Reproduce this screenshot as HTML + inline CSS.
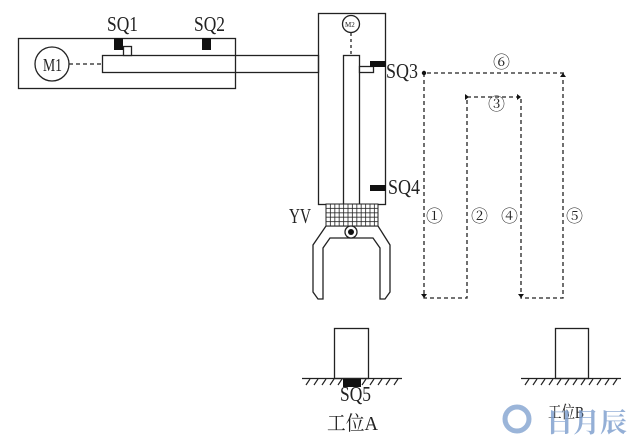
<!DOCTYPE html>
<html><head><meta charset="utf-8"><style>
html,body{margin:0;padding:0;background:#fff;}
svg{display:block}
text{font-family:"Liberation Serif","Noto Serif CJK SC",serif;fill:#222}
</style></head><body>
<svg width="640" height="443" viewBox="0 0 640 443" xmlns="http://www.w3.org/2000/svg">
<defs>
<pattern id="grid" width="4.4" height="4.4" patternUnits="userSpaceOnUse" x="326" y="204">
<rect width="4.4" height="4.4" fill="#fff" stroke="#222" stroke-width="0.8"/>
</pattern>
</defs>
<g fill="none" stroke="#222" stroke-width="1.3">
<rect x="18.5" y="38.5" width="217" height="50"/>
<circle cx="52" cy="64" r="17"/>
<line x1="69" y1="64" x2="101" y2="64" stroke-dasharray="4,3"/>
<rect x="102.5" y="55.5" width="216" height="17"/>
<rect x="123.5" y="46.5" width="8" height="9" fill="#fff"/>
<rect x="318.5" y="13.5" width="67" height="191"/>
<circle cx="351" cy="24" r="8.5"/>
<line x1="351" y1="33" x2="351" y2="55" stroke-dasharray="3,3"/>
<rect x="343.5" y="55.5" width="16" height="149"/>
<rect x="359.5" y="66.5" width="14" height="6" fill="#fff"/>
<path d="M326 226 L378 226 L390 245 L390 292 L385 299 L380 299 L380 248 L373 238 L330 238 L323 248 L323 299 L318 299 L313 292 L313 245 Z" fill="#fff"/>
<rect x="334.5" y="328.5" width="34" height="50"/>
<line x1="302" y1="378.5" x2="402" y2="378.5"/>
<rect x="555.5" y="328.5" width="33" height="50"/>
<line x1="521" y1="378.5" x2="621" y2="378.5"/>
</g>
<rect x="326" y="204" width="52" height="22" fill="url(#grid)" stroke="#222" stroke-width="1"/>
<circle cx="351" cy="232" r="6" fill="#fff" stroke="#222" stroke-width="1.3"/>
<circle cx="351" cy="232" r="3" fill="#111"/>
<rect x="114" y="38" width="9" height="12" fill="#111"/>
<rect x="202" y="38" width="9" height="12" fill="#111"/>
<rect x="370" y="61" width="16" height="6" fill="#111"/>
<rect x="370" y="185" width="16" height="6" fill="#111"/>
<rect x="343" y="379" width="18" height="8" fill="#111"/>
<g stroke="#222" stroke-width="1.2">
<path d="M306 385l4-6M314 385l4-6M322 385l4-6M330 385l4-6M338 385l4-6M362 385l4-6M370 385l4-6M378 385l4-6M386 385l4-6M394 385l4-6"/>
<path d="M525 385l4-6M533 385l4-6M541 385l4-6M549 385l4-6M557 385l4-6M565 385l4-6M573 385l4-6M581 385l4-6M589 385l4-6M597 385l4-6M605 385l4-6M613 385l4-6"/>
</g>
<g fill="none" stroke="#222" stroke-width="1.3" stroke-dasharray="4,3">
<polyline points="564,73 424,73 424,298 467,298 467,97 521,97 521,298 563,298 563,73"/>
</g>
<circle cx="424" cy="73" r="2.2" fill="#111"/>
<path d="M469 97l-4-3v6z M521 97l-4-3v6z M563 73l-3 4h6z M424 298l-3-4h6z M521 298l-3-4h6z" fill="#111"/>
<g font-size="21" lengthAdjust="spacingAndGlyphs">
<text x="107" y="31" textLength="31" lengthAdjust="spacingAndGlyphs">SQ1</text>
<text x="194" y="31" textLength="31" lengthAdjust="spacingAndGlyphs">SQ2</text>
<text x="386" y="78" textLength="32" lengthAdjust="spacingAndGlyphs">SQ3</text>
<text x="388" y="194" textLength="32" lengthAdjust="spacingAndGlyphs">SQ4</text>
<text x="289" y="223" textLength="22" lengthAdjust="spacingAndGlyphs">YV</text>
<text x="340" y="401" textLength="31" lengthAdjust="spacingAndGlyphs">SQ5</text>
</g>
<text x="43" y="71" font-size="18" textLength="19" lengthAdjust="spacingAndGlyphs">M1</text>
<text x="345" y="27" font-size="7">M2</text>
<text x="327" y="430" font-size="20" textLength="51" lengthAdjust="spacingAndGlyphs">工位A</text>
<text x="548" y="418" font-size="17" textLength="36" lengthAdjust="spacingAndGlyphs">工位B</text>
<g font-size="17">
<text x="493" y="68">⑥</text>
<text x="488" y="110">③</text>
<text x="426" y="222">①</text>
<text x="471" y="222">②</text>
<text x="501" y="222">④</text>
<text x="566" y="222">⑤</text>
</g>
<circle cx="517" cy="419" r="12" fill="none" stroke="#7a9ccc" stroke-width="5" opacity="0.75"/>
<text x="546" y="432" font-size="27" style="fill:#7a9ccc" opacity="0.8" font-family="Noto Sans CJK SC,sans-serif" font-weight="bold">日月辰</text>
</svg>
</body></html>
